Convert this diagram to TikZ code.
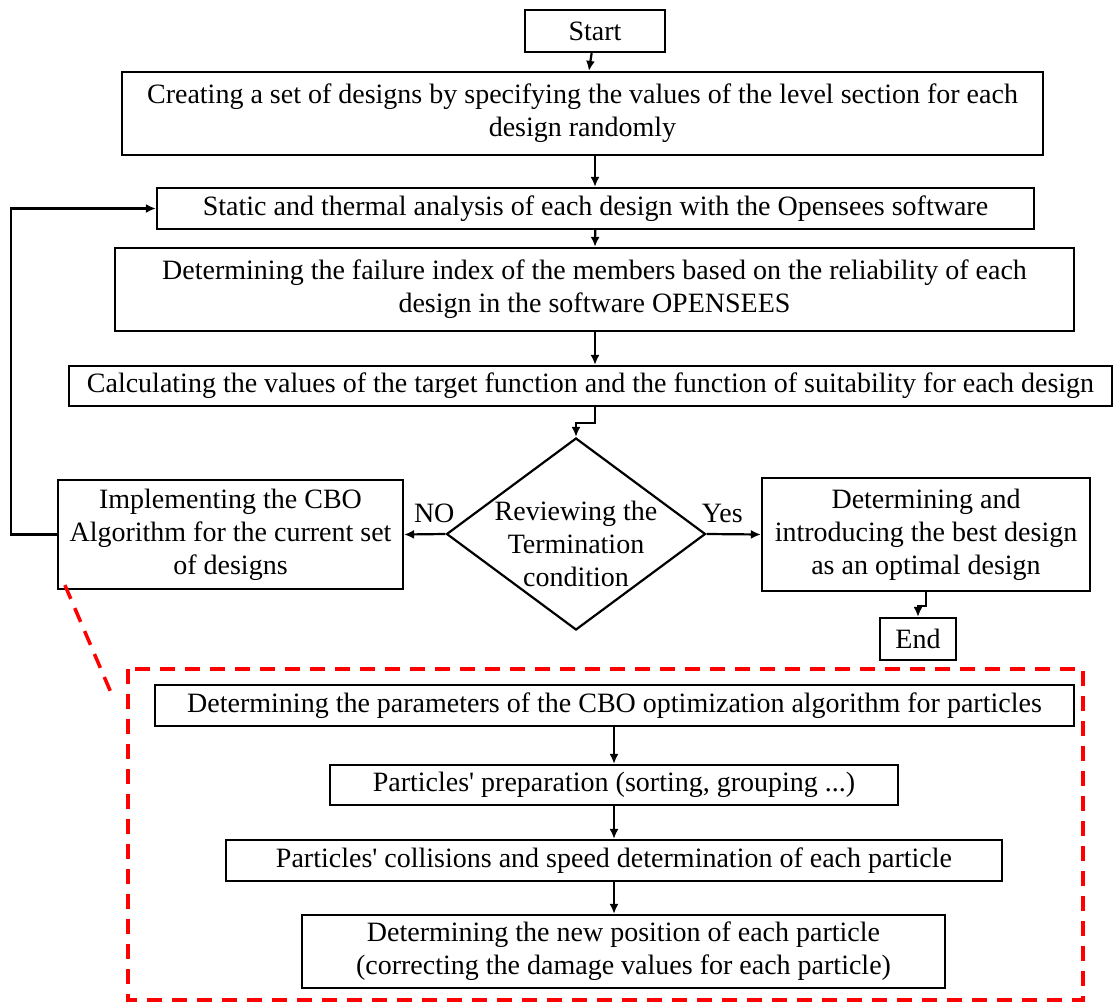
\documentclass[tikz,border=0pt]{standalone}
\usepackage{fontspec}
\setmainfont[Ligatures=TeXOff]{Liberation Serif}
\usetikzlibrary{arrows,arrows.meta,shapes.geometric}

\begin{document}
\begin{tikzpicture}[x=1pt,y=-1pt,
        main/.style = {draw, line width=2.2pt, inner sep=0pt, align=center, font=\fontsize{28}{33}\selectfont},
        cond/.style = {draw, diamond, line width=2.2pt, inner sep=0pt, minimum width=259pt, minimum height=192pt},
        link/.style = {line width=2.2pt, -{Latex[length=10pt,width=9pt]}},
        zoomline/.style = {red, line width=3.5pt, dash pattern=on 15pt off 10pt}]
        \useasboundingbox (0,0) rectangle (1114,1004);

        \node[main, minimum width=140pt, minimum height=42pt] (0) at (595,31) {Start};
        \node[main, minimum width=921pt, minimum height=83pt] (1) at (582.5,113.5) {Creating a set of designs by specifying the values of the level section for each\\design randomly};
        \node[main, minimum width=877pt, minimum height=41pt] (2) at (595.5,208.5) {Static and thermal analysis of each design with the Opensees software};
        \node[main, minimum width=959pt, minimum height=83pt] (3) at (594.5,289.5) {Determining the failure index of the members based on the reliability of each\\design in the software OPENSEES};
        \node[main, minimum width=1043pt, minimum height=40pt] (4) at (590.5,386) {Calculating the values of the target function and the function of suitability for each design};
        \node[cond] (5) at (576,534) {};
        \node[font=\fontsize{28}{33}\selectfont, align=center] (5t) at (576,544) {Reviewing the\\Termination\\condition};
        \node[main, minimum width=345pt, minimum height=109pt] (6) at (230.5,534.5) {Implementing the CBO\\Algorithm for the current set\\of designs};
        \node[main, minimum width=328pt, minimum height=113pt] (7) at (926,534.5) {Determining and\\introducing the best design\\as an optimal design};
        \node[main, minimum width=76pt, minimum height=42pt] (8) at (918,639) {End};

        % CBO steps
        \node[main, minimum width=919pt, minimum height=41pt] (9) at (614.5,705.5) {Determining the parameters of the CBO optimization algorithm for particles};
        \node[main, minimum width=568pt, minimum height=40pt] (10) at (614,785) {Particles' preparation (sorting, grouping ...)};
        \node[main, minimum width=776pt, minimum height=41pt] (11) at (614,860.5) {Particles' collisions and speed determination of each particle};
        \node[main, minimum width=643pt, minimum height=73pt] (12) at (623.5,951.5) {Determining the new position of each particle\\(correcting the damage values for each particle)};

        \draw[link] (0) -- (1);
        \draw[link] ([xshift=12.5pt]1.south) -- ([xshift=-0.5pt]2.north);
        \draw[link] (2) -- ([xshift=0.5pt]3.north);
        \draw[link] ([xshift=0.5pt]3.south) -- ([xshift=4.5pt]4.north);
        \draw[link] ([xshift=4.5pt]4.south) -- ++(0,16) -| (5.north);
        \draw[link] (5.west) -- node[pos=0.27, anchor=base, yshift=12pt, font=\fontsize{28}{33}\selectfont] {NO} (6.east);
        \draw[link] (5.east) -- node[pos=0.29, anchor=base, yshift=12pt, font=\fontsize{28}{33}\selectfont] {Yes} (7.west);
        \draw[link] (7.south) -- ++(0,14) -| (8.north);
        \draw[link] (6.west) -- ++(-46,0) |- (2.west);

        \draw[link] ([xshift=-0.5pt]9.south) -- (10.north);
        \draw[link] (10) -- (11);
        \draw[link] (11) -- ([xshift=-9.5pt]12.north);

        % zoom of the CBO box
        \draw[zoomline] (128,669) rectangle (1083,1000);
        \draw[zoomline] ([xshift=8pt,yshift=5pt]6.south west) -- (112,695);
\end{tikzpicture}
\end{document}
